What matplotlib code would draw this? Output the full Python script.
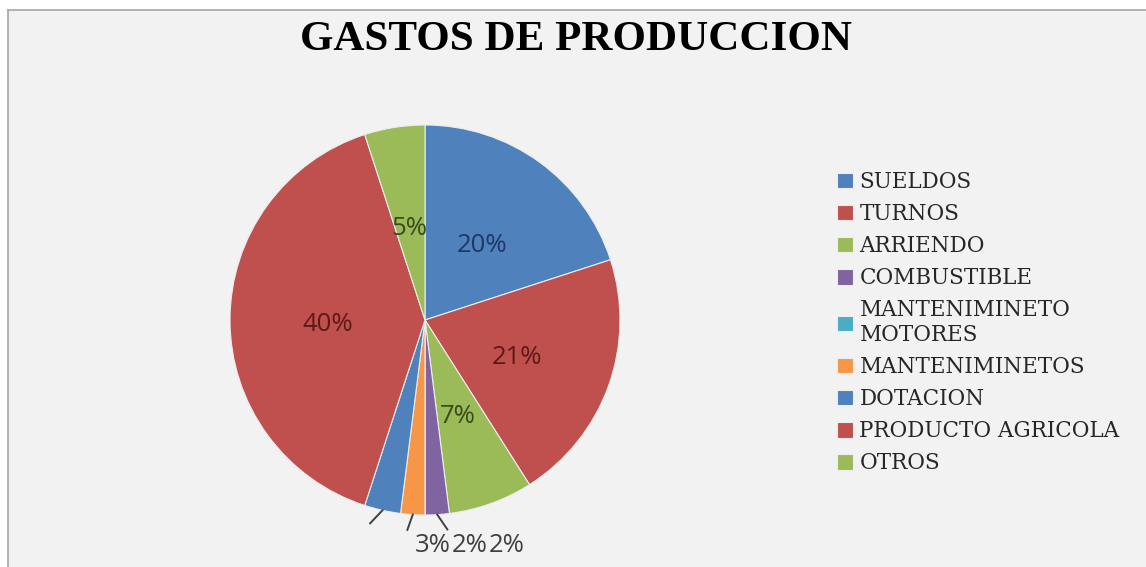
import matplotlib
matplotlib.use('Agg')
import matplotlib.pyplot as plt
import numpy as np
from matplotlib.lines import Line2D
from matplotlib.patches import Rectangle

# --- Datos ---
categorias = ['SUELDOS', 'TURNOS', 'ARRIENDO', 'COMBUSTIBLE',
              'MANTENIMINETO\nMOTORES', 'MANTENIMINETOS', 'DOTACION',
              'PRODUCTO AGRICOLA', 'OTROS']
porcentajes = [20, 21, 7, 2, 0, 2, 3, 40, 5]
colores = ['#4F81BD', '#C0504D', '#9BBB59', '#8064A2', '#4BACC6',
           '#F79646', '#4F81BD', '#C0504D', '#9BBB59']
colores_txt = ['#1F3864', '#5B1A18', '#3B4A1E', '#404040', '#404040',
               '#404040', '#404040', '#5B1A18', '#3B4A1E']
titulo = 'GASTOS DE PRODUCCION'

W, H = 1146, 567
fig = plt.figure(figsize=(W / 100, H / 100), dpi=100, facecolor='white')

# fondo gris con borde arriba/izquierda
fig.patches.append(Rectangle((8 / W, 0), 1, 1 - 10 / H, transform=fig.transFigure,
                             facecolor='#F2F2F2', edgecolor='none', zorder=-5))
fig.add_artist(Line2D([8 / W, 8 / W], [0, 1 - 10 / H], transform=fig.transFigure,
                      color='#A6A6A6', lw=1.2, zorder=-4))
fig.add_artist(Line2D([8 / W, 1], [1 - 10 / H, 1 - 10 / H], transform=fig.transFigure,
                      color='#A6A6A6', lw=1.2, zorder=-4))

fig.text(576 / W, 1 - 40 / H, titulo, ha='center', va='center',
         fontsize=31, fontweight='bold', family='Liberation Serif', color='black')

# --- Pie ---
R = 195
cx, cy = 425, 320
ax = fig.add_axes([(cx - 200) / W, (H - cy - 200) / H, 400 / W, 400 / H])

wedges, _ = ax.pie(porcentajes, colors=colores, startangle=90, counterclock=False,
                   radius=1, wedgeprops=dict(edgecolor='#EDEDED', linewidth=0.8))
ax.set_xlim(-200 / R, 200 / R)
ax.set_ylim(-200 / R, 200 / R)
ax.set_aspect('equal')
ax.axis('off')

# etiquetas internas
for i, (w, p) in enumerate(zip(wedges, porcentajes)):
    if p < 5:
        continue
    ang = np.deg2rad((w.theta1 + w.theta2) / 2)
    d = 0.5
    x, y = d * np.cos(ang), d * np.sin(ang) - 0.025
    ax.text(x, y, f'{p}%', ha='center', va='center',
            fontsize=18.5, family='Open Sans', color=colores_txt[i])

# etiquetas externas pequeñas con líneas guía (se abren en abanico)
pequenas = [6, 5, 3]
abanico = [-2.5, -1.2, 2.5]
for k, i in enumerate(pequenas):
    w = wedges[i]
    a0 = (w.theta1 + w.theta2) / 2
    a1 = np.deg2rad(a0 + abanico[k])
    a0 = np.deg2rad(a0)
    ax.plot([1.0 * np.cos(a0), 1.08 * np.cos(a1)],
            [1.0 * np.sin(a0), 1.08 * np.sin(a1)],
            color='#404040', lw=1.4, clip_on=False)
    ax.text((8 + 37 * k) / R, -226 / R, f'{porcentajes[i]}%', ha='center', va='center',
            fontsize=18.5, family='Open Sans', color='#404040')

# --- Leyenda ---
leg = fig.legend(wedges, categorias, loc='upper left',
                 bbox_to_anchor=(837 / W, 1 - 171 / H), frameon=False,
                 handlelength=0.72, handleheight=0.72, handletextpad=0.32,
                 labelspacing=0.47, borderpad=0, borderaxespad=0,
                 prop=dict(family='DejaVu Serif', size=15.5))
for t in leg.get_texts():
    t.set_color('#262626')
    t.set_linespacing(1.15)

fig.savefig('out.png', dpi=100, facecolor=fig.get_facecolor())
